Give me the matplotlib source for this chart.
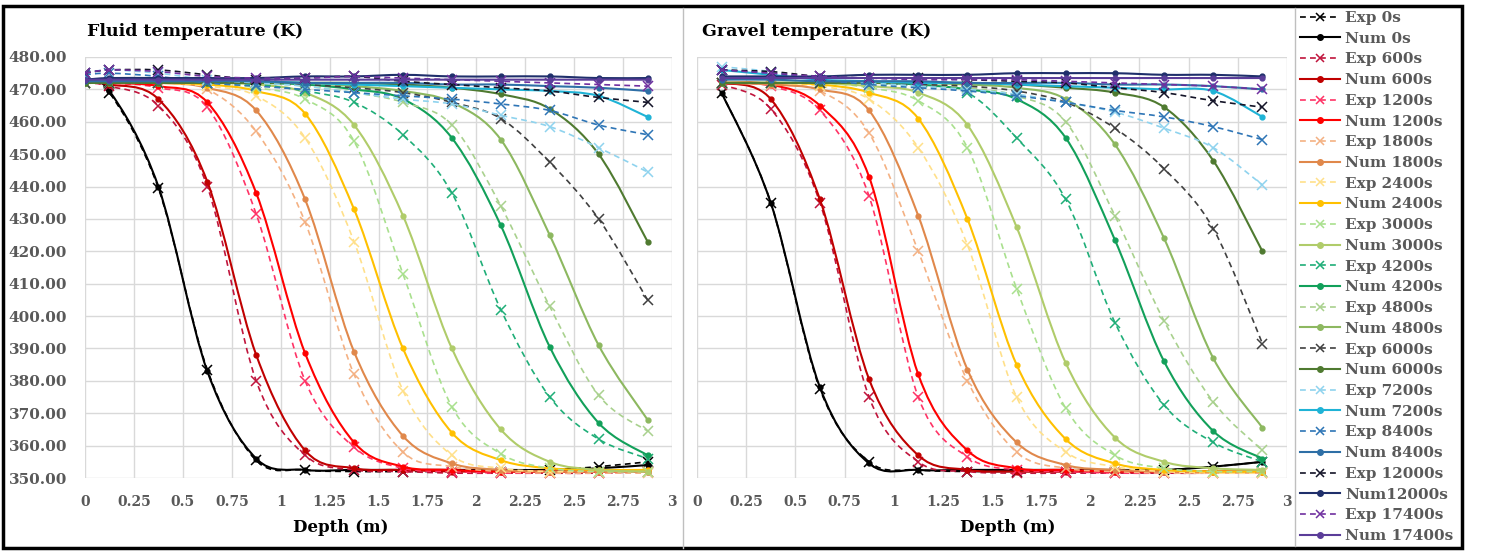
import numpy as np
import matplotlib
matplotlib.use('Agg')
import matplotlib.pyplot as plt
from matplotlib.path import Path
from matplotlib.patches import PathPatch, Rectangle
from matplotlib.lines import Line2D

plt.rcParams['font.family'] = ['DejaVu Serif']

W, H = 1486, 552

times = ['0s', '600s', '1200s', '1800s', '2400s', '3000s', '4200s', '4800s',
         '6000s', '7200s', '8400s', '12000s', '17400s']
exp_labels = ['Exp ' + t for t in times]
num_labels = ['Num ' + t for t in times]
num_labels[11] = 'Num12000s'

exp_colors = ['#000000', '#c0143c', '#ff3366', '#f4b183', '#ffe08a', '#a9e08e',
              '#1fae78', '#a9d18e', '#404040', '#8fd3ee', '#2e75b6', '#141428', '#7030a0']
num_colors = ['#000000', '#c00000', '#ff0000', '#e0884b', '#ffc000', '#b0cc6a',
              '#12a05a', '#8db860', '#4f7a30', '#1fb3d6', '#2e6fa6', '#1f2f6b', '#5b3d99']

fluid_depth = [0, 0.125, 0.375, 0.625, 0.875, 1.125, 1.375, 1.625, 1.875, 2.125, 2.375, 2.625, 2.875]
gravel_depth = [0.125, 0.375, 0.625, 0.875, 1.125, 1.375, 1.625, 1.875, 2.125, 2.375, 2.625, 2.875]

# fluid temperature (K)
fluid_exp_0 = [472, 469, 439.5, 383.5, 355.5, 352.5, 352, 352, 352, 352, 352.5, 353.5, 355]
fluid_num_0 = [472, 469.5, 440, 383, 356, 352.5, 352.5, 352.5, 352.5, 352.5, 352.5, 353, 354]
fluid_exp_600 = [472, 471, 465, 440, 380, 357, 352.5, 352, 351.5, 351.5, 351.5, 351.5, 352]
fluid_num_600 = [472, 471.5, 467, 441.5, 388, 358.5, 353, 352.5, 352, 352, 352, 352, 352.5]
fluid_exp_1200 = [472, 472, 470.5, 464.5, 431.5, 380, 359.5, 353, 352, 351.5, 351.5, 351.5, 352]
fluid_num_1200 = [472, 472, 471, 466, 438, 388.5, 361, 353.5, 352.5, 352, 352, 352, 352]
fluid_exp_1800 = [472, 472, 472, 470, 457, 429, 382, 358, 353.5, 352, 351.5, 351.5, 351.5]
fluid_num_1800 = [472, 472, 472, 470.5, 463.5, 436, 389, 363, 354.5, 352.5, 352, 352, 352]
fluid_exp_2400 = [472, 472, 472, 471, 468, 455, 423, 377, 357, 353, 352, 352, 352]
fluid_num_2400 = [472, 472, 472, 471.5, 469.5, 462.5, 433, 390, 364, 355.5, 353, 352.5, 352.5]
fluid_exp_3000 = [472, 472, 472, 472, 470.5, 467, 454, 413, 372, 357.5, 353, 352, 352]
fluid_num_3000 = [472, 472, 472, 472, 471.5, 469, 459, 431, 390, 365, 355, 352.5, 352]
fluid_exp_4200 = [472, 472, 472, 472, 471.5, 469.5, 466, 456, 438, 402, 375, 362, 356]
fluid_num_4200 = [472, 472, 472, 472, 472, 471.5, 470, 467, 455, 428, 390.5, 367, 357]
fluid_exp_4800 = [472, 472, 472, 472, 472, 471, 469, 466, 459, 434, 403, 375.5, 364.5]
fluid_num_4800 = [472, 472, 472, 472, 472, 472, 471, 469.5, 466, 454.5, 425, 391, 368]
fluid_exp_6000 = [472, 472, 472, 472, 472, 471.5, 470.5, 469, 466, 461, 447.5, 430, 405]
fluid_num_6000 = [472, 472, 472, 472, 472, 472, 472, 471.5, 470.5, 468.5, 464, 450, 423]
fluid_exp_7200 = [475, 476, 475, 473, 472, 471, 469, 467, 465.5, 462, 458.5, 452, 444.5]
fluid_num_7200 = [473, 473, 473, 473, 472.5, 472, 471.5, 471, 470.5, 470, 469.5, 468, 461.5]
fluid_exp_8400 = [474.5, 475, 474, 472, 471, 470, 469, 468, 467, 465.5, 463.5, 459, 456]
fluid_num_8400 = [472.5, 472.5, 472.5, 472.5, 472.5, 472, 472, 472, 471.5, 471.5, 471, 470.5, 469.5]
fluid_exp_12000 = [475, 476, 476, 474.5, 473, 473.5, 474, 472.5, 471.5, 470.5, 469.5, 467.5, 466]
fluid_num_12000 = [473, 473.5, 473.5, 473.5, 473.5, 474, 474, 474.5, 474, 474, 474, 473.5, 473.5]
fluid_exp_17400 = [475, 476, 475.5, 474, 473.5, 473.5, 474, 473.5, 473, 472.5, 472, 471.5, 471]
fluid_num_17400 = [473, 473, 473, 473, 473, 473, 473, 473, 473, 473, 473, 473, 473]

# gravel temperature (K)
gravel_exp_0 = [469, 435, 377.5, 355, 352.5, 352, 352, 352, 352, 352.5, 353.5, 355]
gravel_num_0 = [469, 435, 378, 354.5, 352.5, 352.5, 352.5, 352.5, 352.5, 352.5, 353.5, 355]
gravel_exp_600 = [471.5, 464, 435, 375, 355, 352, 351.5, 351.5, 351.5, 351.5, 351.5, 352]
gravel_num_600 = [472, 467, 436, 380.5, 357, 352.5, 352, 352, 352, 352, 352, 352]
gravel_exp_1200 = [472, 471, 463.5, 437, 375, 356.5, 352.5, 352, 351.5, 351.5, 351.5, 351.5]
gravel_num_1200 = [472, 471.5, 465, 443, 382, 358.5, 353, 352.5, 352, 352, 352, 352]
gravel_exp_1800 = [472, 471.5, 469.5, 456.5, 420, 380, 358, 353, 352, 351.5, 351.5, 351.5]
gravel_num_1800 = [472, 471.5, 470, 463.5, 431, 383.5, 361, 354, 352.5, 352, 352, 352]
gravel_exp_2400 = [472, 472, 471, 467, 452, 422, 375, 358, 353.5, 352, 351.5, 351.5]
gravel_num_2400 = [472, 472, 471.5, 469, 461, 430, 385, 362, 354.5, 352.5, 352, 352]
gravel_exp_3000 = [472, 472, 472, 470.5, 466.5, 452, 408.5, 371.5, 357, 353, 352, 352]
gravel_num_3000 = [472, 472, 472, 471, 469, 459, 427.5, 385.5, 362.5, 355, 353, 352.5]
gravel_exp_4200 = [472, 472, 472, 472, 471, 469, 455, 436, 398, 372.5, 361, 355]
gravel_num_4200 = [472, 472, 472, 472, 471.5, 470, 467, 455, 423.5, 386, 364.5, 356]
gravel_exp_4800 = [472, 472, 472, 472, 471.5, 470.5, 468, 460, 431, 398.5, 373.5, 358.5]
gravel_num_4800 = [472, 472, 472, 472, 472, 471.5, 470.5, 467, 453, 424, 387, 365.5]
gravel_exp_6000 = [472, 472, 472, 472, 471.5, 471, 469.5, 466, 458, 445.5, 427, 391.5]
gravel_num_6000 = [472, 472, 472, 472, 472, 472, 471.5, 470.5, 469, 464.5, 448, 420]
gravel_exp_7200 = [477, 475.5, 473, 472, 471, 470, 468.5, 466, 463, 458, 452, 440.5]
gravel_num_7200 = [476, 474.5, 473, 472.5, 472, 472, 471.5, 471, 470.5, 470, 469.5, 461.5]
gravel_exp_8400 = [476, 475, 473, 471.5, 470.5, 469.5, 468, 466, 463.5, 461.5, 458.5, 454.5]
gravel_num_8400 = [473, 473, 472.5, 472.5, 472.5, 472, 472, 472, 471.5, 471.5, 471, 470]
gravel_exp_12000 = [476, 475.5, 474, 473.5, 473.5, 473, 472.5, 472, 470.5, 469, 466.5, 464.5]
gravel_num_12000 = [474, 474, 474, 474.5, 474.5, 474.5, 475, 475, 475, 474.5, 474.5, 474]
gravel_exp_17400 = [476, 475, 474, 473.5, 473, 473, 473, 472.5, 472, 471.5, 471, 470]
gravel_num_17400 = [473.5, 473.5, 473.5, 473.5, 473.5, 473.5, 473.5, 473.5, 473.5, 473.5, 473.5, 473.5]

fluid_exp = [fluid_exp_0, fluid_exp_600, fluid_exp_1200, fluid_exp_1800, fluid_exp_2400,
             fluid_exp_3000, fluid_exp_4200, fluid_exp_4800, fluid_exp_6000, fluid_exp_7200,
             fluid_exp_8400, fluid_exp_12000, fluid_exp_17400]
fluid_num = [fluid_num_0, fluid_num_600, fluid_num_1200, fluid_num_1800, fluid_num_2400,
             fluid_num_3000, fluid_num_4200, fluid_num_4800, fluid_num_6000, fluid_num_7200,
             fluid_num_8400, fluid_num_12000, fluid_num_17400]
gravel_exp = [gravel_exp_0, gravel_exp_600, gravel_exp_1200, gravel_exp_1800, gravel_exp_2400,
              gravel_exp_3000, gravel_exp_4200, gravel_exp_4800, gravel_exp_6000, gravel_exp_7200,
              gravel_exp_8400, gravel_exp_12000, gravel_exp_17400]
gravel_num = [gravel_num_0, gravel_num_600, gravel_num_1200, gravel_num_1800, gravel_num_2400,
              gravel_num_3000, gravel_num_4200, gravel_num_4800, gravel_num_6000, gravel_num_7200,
              gravel_num_8400, gravel_num_12000, gravel_num_17400]

x_ticks = [0, 0.25, 0.5, 0.75, 1, 1.25, 1.5, 1.75, 2, 2.25, 2.5, 2.75, 3]
x_tick_labels = ['0', '0.25', '0.5', '0.75', '1', '1.25', '1.5', '1.75', '2', '2.25', '2.5', '2.75', '3']
y_ticks = list(range(350, 481, 10))

EXP_DASH = (0, (3.5, 2.5))


def smooth_path(x, y):
    # excel style smoothed line: catmull-rom segments as cubic beziers
    pts = np.column_stack([x, y]).astype(float)
    n = len(pts)
    verts = [pts[0]]
    codes = [Path.MOVETO]
    for i in range(n - 1):
        p0 = pts[i - 1] if i > 0 else pts[i]
        p1, p2 = pts[i], pts[i + 1]
        p3 = pts[i + 2] if i + 2 < n else pts[i + 1]
        verts += [p1 + (p2 - p0) / 6, p2 - (p3 - p1) / 6, p2]
        codes += [Path.CURVE4] * 3
    return Path(verts, codes)


def draw_panel(ax, depth, exp_list, num_list):
    z = 2
    for k in range(len(times)):
        ax.add_patch(PathPatch(smooth_path(depth, exp_list[k]), fill=False,
                               edgecolor=exp_colors[k], lw=1.2, linestyle=EXP_DASH, zorder=z))
        ax.plot(depth, exp_list[k], ls='none', marker='x', ms=7, mew=1.1,
                color=exp_colors[k], zorder=z + 0.5)
        z += 1
        ax.add_patch(PathPatch(smooth_path(depth, num_list[k]), fill=False,
                               edgecolor=num_colors[k], lw=1.5, zorder=z))
        ax.plot(depth, num_list[k], ls='none', marker='o', ms=3.5,
                color=num_colors[k], zorder=z + 0.5)
        z += 1
    ax.set_xlim(0, 3)
    ax.set_ylim(350, 480)
    ax.set_xticks(x_ticks)
    ax.set_xticklabels(x_tick_labels)
    ax.set_yticks(y_ticks)
    ax.set_yticklabels(['%.2f' % v for v in y_ticks])
    ax.grid(True, color='#d9d9d9', lw=1)
    ax.set_axisbelow(True)
    for s in ax.spines.values():
        s.set_visible(False)
    ax.tick_params(length=0, colors='#595959')
    ax.tick_params(axis='x', pad=12, labelsize=10)
    ax.tick_params(axis='y', pad=13, labelsize=11)
    for lab in ax.get_xticklabels() + ax.get_yticklabels():
        lab.set_fontweight('bold')


fig = plt.figure(figsize=(W / 100, H / 100), dpi=100)
ax1 = fig.add_axes([85 / W, 1 - 478 / H, 587 / W, 421 / H])
ax2 = fig.add_axes([697 / W, 1 - 478 / H, 590 / W, 421 / H])

draw_panel(ax1, fluid_depth, fluid_exp, fluid_num)
draw_panel(ax2, gravel_depth, gravel_exp, gravel_num)
ax2.tick_params(axis='y', labelleft=False)

fig.text(87 / W, 1 - 32 / H, 'Fluid temperature (K)', fontsize=12.5, fontweight='bold', va='center')
fig.text(702 / W, 1 - 32 / H, 'Gravel temperature (K)', fontsize=12.5, fontweight='bold', va='center')
fig.text(341 / W, 1 - 527 / H, 'Depth (m)', fontsize=12, fontweight='bold', ha='center', va='center')
fig.text(1008 / W, 1 - 527 / H, 'Depth (m)', fontsize=12, fontweight='bold', ha='center', va='center')

handles, labels = [], []
for k in range(len(times)):
    handles.append(Line2D([], [], color=exp_colors[k], lw=1.2, ls=EXP_DASH, marker='x', ms=6, mew=1.1))
    labels.append(exp_labels[k])
    handles.append(Line2D([], [], color=num_colors[k], lw=1.5, marker='o', ms=4))
    labels.append(num_labels[k])

leg = fig.legend(handles, labels, loc='upper left', bbox_to_anchor=(1300 / W, 1 - 11 / H),
                 frameon=False, fontsize=11, handlelength=2.6, handletextpad=0.35,
                 labelspacing=0.44, borderpad=0, borderaxespad=0)
for t in leg.get_texts():
    t.set_color('#595959')
    t.set_fontweight('bold')

# divider lines and outer border
fig.add_artist(Line2D([683 / W, 683 / W], [1 - 8 / H, 1 - 548 / H], transform=fig.transFigure,
                      color='#bfbfbf', lw=1))
fig.add_artist(Line2D([1295 / W, 1295 / W], [1 - 8 / H, 1 - 546 / H], transform=fig.transFigure,
                      color='#bfbfbf', lw=1))
fig.add_artist(Rectangle((3 / W, 1 - 548 / H), 1459 / W, 542 / H, transform=fig.transFigure,
                         fill=False, ec='black', lw=2.5))

fig.savefig('out.png', dpi=100)
